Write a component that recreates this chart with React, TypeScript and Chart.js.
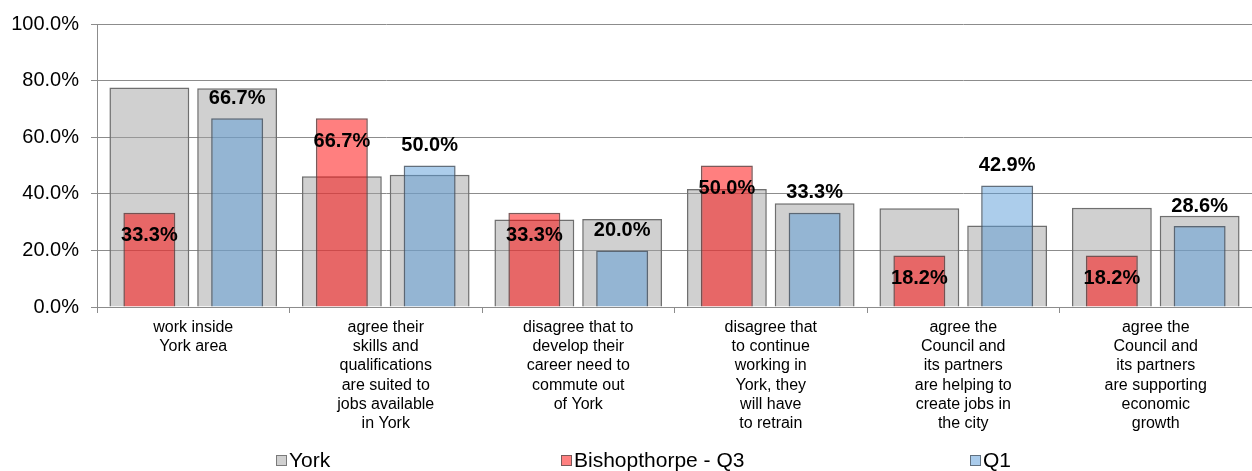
import React, { useEffect, useRef } from "react";
import { Chart, registerables } from "chart.js";

Chart.register(...registerables);

const categories: string[][] = [
  ["work inside", "York area"],
  ["agree their", "skills and", "qualifications", "are suited to", "jobs available", "in York"],
  ["disagree that to", "develop their", "career need to", "commute out", "of York"],
  ["disagree that", "to continue", "working in", "York, they", "will have", "to retrain"],
  ["agree the", "Council and", "its partners", "are helping to", "create jobs in", "the city"],
  ["agree the", "Council and", "its partners", "are supporting", "economic", "growth"],
];

const yorkQ3: number[] = [77.6, 46.2, 30.9, 41.7, 34.9, 35.1];
const yorkQ1: number[] = [77.3, 46.7, 31.1, 36.7, 28.8, 32.2];
const bishopthorpeQ3: number[] = [33.3, 66.7, 33.3, 50.0, 18.2, 18.2];
const q1: number[] = [66.7, 50.0, 20.0, 33.3, 42.9, 28.6];

const yTicks: number[] = [0, 20, 40, 60, 80, 100];

const legendItems = [
  { label: "York", fill: "#D0D0D0", border: "#7a7a7a", left: 276 },
  { label: "Bishopthorpe - Q3", fill: "#FF8080", border: "#7a5a5a", left: 561 },
  { label: "Q1", fill: "#A9CBEB", border: "#60707f", left: 970 },
];

const FONT = '"Liberation Sans", Arial, sans-serif';

const valueLabels = {
  id: "valueLabels",
  afterDatasetsDraw(chart: any) {
    const ctx = chart.ctx;
    ctx.save();
    ctx.font = `bold 20px ${FONT}`;
    ctx.fillStyle = "#000";
    ctx.textAlign = "center";
    ctx.textBaseline = "middle";
    [2, 3].forEach((di) => {
      const meta = chart.getDatasetMeta(di);
      meta.data.forEach((el: any, i: number) => {
        const v = chart.data.datasets[di].data[i] as number;
        const { x, y } = el.getProps(["x", "y"], true);
        const off = di === 2 ? 23 : -20;
        ctx.fillText(v.toFixed(1) + "%", x, y + off);
      });
    });
    ctx.restore();
  },
};

export default function App() {
  const ref = useRef<HTMLCanvasElement>(null);

  useEffect(() => {
    if (!ref.current) return;
    const greyFill = "rgba(162,162,162,0.5)";
    const wide = { categoryPercentage: 0.912, barPercentage: 0.91 };
    const narrow = { categoryPercentage: 0.912, barPercentage: 0.592 };
    const chart = new Chart(ref.current, {
      type: "bar",
      data: {
        labels: categories,
        datasets: [
          {
            label: "York",
            data: yorkQ3,
            stack: "a",
            backgroundColor: greyFill,
            borderColor: "#6f6f6f",
            borderWidth: 1.5,
            ...wide,
            order: 2,
          },
          {
            label: "York ",
            data: yorkQ1,
            stack: "b",
            backgroundColor: greyFill,
            borderColor: "#6f6f6f",
            borderWidth: 1.5,
            ...wide,
            order: 2,
          },
          {
            label: "Bishopthorpe - Q3",
            data: bishopthorpeQ3,
            stack: "a",
            backgroundColor: "rgba(255,0,0,0.5)",
            borderColor: "rgba(100,60,60,0.85)",
            borderWidth: 1.5,
            ...narrow,
            order: 1,
          },
          {
            label: "Q1",
            data: q1,
            stack: "b",
            backgroundColor: "rgba(90,155,215,0.5)",
            borderColor: "rgba(70,85,100,0.85)",
            borderWidth: 1.5,
            ...narrow,
            order: 1,
          },
        ],
      },
      options: {
        animation: false,
        responsive: true,
        maintainAspectRatio: false,
        layout: { padding: { top: 21, left: 0, right: 0, bottom: 0 } },
        plugins: {
          legend: { display: false },
          tooltip: { enabled: false },
        },
        scales: {
          x: {
            type: "category",
            stacked: true,
            offset: true,
            grid: {
              offset: true,
              drawOnChartArea: false,
              drawTicks: true,
              tickLength: 6,
              color: "#8c8c8c",
            },
            border: { display: true, color: "#8c8c8c", width: 1 },
            ticks: {
              autoSkip: false,
              maxRotation: 0,
              minRotation: 0,
              padding: 5,
              color: "#000",
              font: { family: FONT, size: 16, lineHeight: 1.2 },
            },
            afterFit: (scale: any) => {
              scale.height = 164;
            },
          },
          y: {
            stacked: false,
            min: 0,
            max: 100,
            afterBuildTicks: (scale: any) => {
              scale.ticks = yTicks.map((v) => ({ value: v }));
            },
            grid: {
              color: "#8c8c8c",
              lineWidth: 1,
              tickLength: 6,
              drawTicks: true,
            },
            border: { display: true, color: "#8c8c8c", width: 1 },
            ticks: {
              padding: 12,
              color: "#000",
              font: { family: FONT, size: 20 },
              callback: (v: any) => Number(v).toFixed(1) + "%",
            },
            afterFit: (scale: any) => {
              scale.width = 97;
            },
          },
        },
      },
      plugins: [valueLabels],
    });
    return () => chart.destroy();
  }, []);

  return (
    <div
      style={{
        position: "fixed",
        left: 0,
        top: 0,
        width: 1252,
        height: 471,
        background: "#fff",
      }}
    >
      <canvas ref={ref} />
      {legendItems.map((it) => (
        <div
          key={it.label}
          style={{
            position: "absolute",
            left: it.left,
            top: 447,
            height: 26,
            display: "flex",
            alignItems: "center",
            fontFamily: FONT,
            fontSize: 21,
            color: "#000",
            whiteSpace: "nowrap",
          }}
        >
          <span
            style={{
              display: "inline-block",
              width: 9,
              height: 9,
              background: it.fill,
              border: `1px solid ${it.border}`,
              marginRight: 2,
            }}
          />
          <span>{it.label}</span>
        </div>
      ))}
    </div>
  );
}
